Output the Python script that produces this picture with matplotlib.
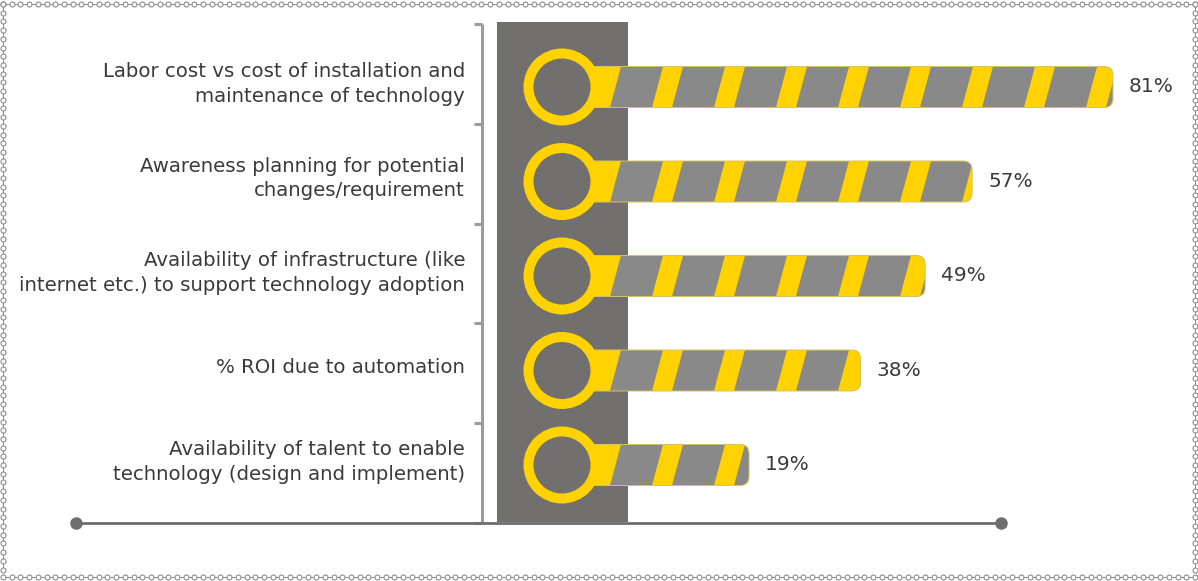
import matplotlib
matplotlib.use("Agg")
import matplotlib.pyplot as plt
import numpy as np
from matplotlib.patches import Ellipse, FancyBboxPatch, Polygon, Rectangle

W, H = 1198, 581

categories = [
    "Labor cost vs cost of installation and\nmaintenance of technology",
    "Awareness planning for potential\nchanges/requirement",
    "Availability of infrastructure (like\ninternet etc.) to support technology adoption",
    "% ROI due to automation",
    "Availability of talent to enable\ntechnology (design and implement)",
]
values = [81, 57, 49, 38, 19]
value_labels = ["81%", "57%", "49%", "38%", "19%"]

# layout (pixels)
PX_ZERO = 637.5      # pixel x of value 0
PX_PER_PCT = 5.87
ROW0 = 87            # pixel y of first row
ROW_STEP = 94.5

YELLOW = "#FFD200"
BAR_GREY = "#898989"
COLUMN = "#71706F"
TEXT = "#3A3A3A"
AXIS = "#6E6E6E"

plt.rcParams["font.family"] = ["DejaVu Sans"]


def dx(px):
    return px / PX_PER_PCT


def dy(px):
    return px / ROW_STEP


fig = plt.figure(figsize=(W / 100, H / 100), dpi=100)

# decoration layer in pixel coordinates
deco = fig.add_axes([0, 0, 1, 1])
deco.set_xlim(0, W)
deco.set_ylim(H, 0)
deco.axis("off")

# dotted chain border
top_x = np.arange(3, W - 2, 8.7)
side_y = np.arange(4, H - 3, 8.7)
chain = dict(color="#8C8C8C", lw=0.7, marker="o", ms=3.6, mfc="white", mec="#8C8C8C", mew=0.8)
deco.plot(top_x, np.full_like(top_x, 4), **chain)
deco.plot(top_x, np.full_like(top_x, 577), **chain)
deco.plot(np.full_like(side_y, 3), side_y, **chain)
deco.plot(np.full_like(side_y, 1195), side_y, **chain)

# dark column behind the rings
deco.add_patch(Rectangle((497, 22), 131, 500, fc=COLUMN, ec="none"))

# vertical axis with ticks
deco.plot([482, 482], [24, 523], color="#9B9B9B", lw=2.2, solid_capstyle="butt")
for ty in np.linspace(24, 523, 6):
    deco.plot([474, 482], [ty, ty], color="#9B9B9B", lw=2.2, solid_capstyle="butt")

# horizontal base line with end dots
deco.plot([76, 1001], [523, 523], color=AXIS, lw=2.0)
deco.plot([76, 1001], [523, 523], "o", color=AXIS, ms=8)

# value layer
ax = fig.add_axes([0, 0, 1, 1], facecolor="none")
ax.set_xlim(-PX_ZERO / PX_PER_PCT, (W - PX_ZERO) / PX_PER_PCT)
ax.set_ylim((H - ROW0) / ROW_STEP, -ROW0 / ROW_STEP)
ax.axis("off")

ring_x = dx(562 - PX_ZERO)
bar_h = dy(41)
period = dx(62)
stripe_w = dx(20)
slant = dx(11)
first_stripe = dx(601 - PX_ZERO)

for i, (cat, v, lab) in enumerate(zip(categories, values, value_labels)):
    top = i - bar_h / 2
    bottom = i + bar_h / 2
    bar = FancyBboxPatch(
        (ring_x, top), v - ring_x, bar_h,
        boxstyle=f"round,pad=0,rounding_size={dx(9)}",
        mutation_aspect=PX_PER_PCT / ROW_STEP,
        fc=BAR_GREY, ec="none", zorder=2,
    )
    ax.add_patch(bar)

    # yellow connector from ring to the first stripe
    conn = Polygon(
        [(ring_x, bottom), (first_stripe + stripe_w - slant, bottom),
         (first_stripe + stripe_w, top), (ring_x, top)],
        closed=True, fc=YELLOW, ec="none", zorder=3,
    )
    ax.add_patch(conn)
    conn.set_clip_path(bar)

    s = first_stripe + period
    while s - slant < v:
        st = Polygon(
            [(s - slant, bottom), (s - slant + stripe_w, bottom),
             (s + stripe_w, top), (s, top)],
            closed=True, fc=YELLOW, ec="none", zorder=3,
        )
        ax.add_patch(st)
        st.set_clip_path(bar)
        s += period

    # thin olive outline on top of the stripes
    ax.add_patch(FancyBboxPatch(
        (ring_x, top), v - ring_x, bar_h,
        boxstyle=f"round,pad=0,rounding_size={dx(9)}",
        mutation_aspect=PX_PER_PCT / ROW_STEP,
        fc="none", ec="#D8C45A", lw=0.7, zorder=3.5,
    ))

    ax.add_patch(Ellipse((ring_x, i), 2 * dx(38.5), 2 * dy(38.5), fc=YELLOW, ec="none", zorder=4))
    ax.add_patch(Ellipse((ring_x, i), 2 * dx(28.5), 2 * dy(28.5), fc=COLUMN, ec="none", zorder=5))

    ax.text(v + dx(16), i, lab, ha="left", va="center", fontsize=14.5, color=TEXT)
    ax.text(dx(465 - PX_ZERO), i - dy(3), cat, ha="right", va="center", ma="right",
            fontsize=14.2, color=TEXT, linespacing=1.34)

fig.savefig("out.png", dpi=100)
